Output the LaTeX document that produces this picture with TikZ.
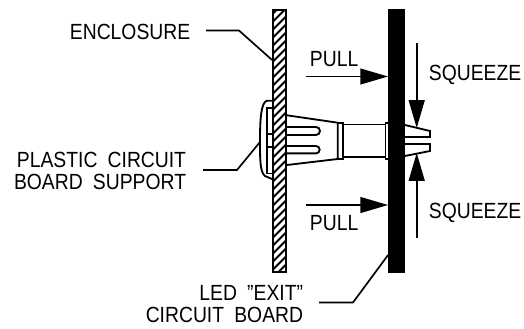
\documentclass[tikz,border=0pt]{standalone}
\usepackage{fontspec}
\setmainfont{Liberation Sans}[WordSpace=1.9, FakeStretch=0.88]
\usetikzlibrary{arrows.meta}
\begin{document}
\begin{tikzpicture}[
        x=0.02cm, y=-0.02cm,
        line width=1.05pt,
        every node/.style={inner sep=0pt, font=\fontsize{12.5}{13}\selectfont},
        textlabel/.style={align=right},
        leader/.style={line width=0.95pt},
        bigarrow/.style={line width=0.95pt, -{Triangle[length=15.8pt, width=9pt]}},
        wallbox/.style={draw, minimum width=0.26cm, minimum height=5.24cm, path picture={
            \foreach \y in {-140,-132,...,170} { \draw[line width=1.05pt] (-10,\y) -- (10,\y-20); }
        }},
        boardbox/.style={draw, fill=black, minimum width=0.30cm, minimum height=5.24cm}
    ]
        \useasboundingbox (0,0) rectangle (524,328);

        % Enclosure and board
        \node [wallbox] (wall) at (279.5,141) {};
        \node [boardbox] (board) at (396.5,141) {};

        % Labels
        \node [anchor=base west] (enclosure) at (69,39) {ENCLOSURE};
        \node [textlabel, anchor=east] (support) at (187,171) {PLASTIC CIRCUIT\\BOARD SUPPORT};
        \node [textlabel, anchor=east] (exit) at (304,304) {LED "EXIT"\\CIRCUIT BOARD};
        \node [anchor=base west] (pull1) at (309,66) {PULL};
        \node [anchor=base west] (pull2) at (309,230) {PULL};
        \node [anchor=base west] (squeeze1) at (428,80) {SQUEEZE};
        \node [anchor=base west] (squeeze2) at (428,218) {SQUEEZE};

        % Leaders
        \coordinate (enclosureStart) at (206,30.5);
        \coordinate (supportStart) at (203,170);
        \coordinate (exitStart) at (319,302.5);
        \draw[leader] (enclosureStart) -- (239,30.5) -- (wall.west |- 0,60);
        \draw[leader] (supportStart) -- (237,170) -- (260,142);
        \draw[leader] (exitStart) -- (353,302.5) -- (board.west |- 0,255);

        % Head of the support
        \draw (wall.west |- 0,100.7) -- (267,100.7) .. controls (261,102) and (260,120) .. (260,140)
            .. controls (260,160) and (260,172) .. (265,176) -- (wall.west |- 0,179);
        \draw (wall.west |- 0,108) -- (266.7,108) -- (266.7,173.5) -- (wall.west |- 0,173.5);
        \draw (266.7,134) -- (wall.west |- 0,134);
        \draw (266.7,147) -- (wall.west |- 0,147);

        % Cone with the two slots
        \draw (wall.east |- 0,115.3) -- (337.7,122.7) -- (337.7,159) -- (wall.east |- 0,165);
        \draw (wall.east |- 0,127) -- (316,127) arc (-90:90:4) -- (wall.east |- 0,135);
        \draw (wall.east |- 0,146) -- (316,146) arc (-90:90:3.7) -- (wall.east |- 0,153.4);

        % Barrel
        \draw (337.7,122.7) -- (342.7,122.7) -- (342.7,159) -- (337.7,159);
        \draw (342.7,124.5) -- (385.5,124.5);
        \draw (342.7,156.7) -- (385.5,156.7);
        \draw (board.west |- 0,122.7) -- (385.5,122.7) -- (385.5,159) -- (board.west |- 0,159);

        % Prongs through the board
        \draw (board.east |- 0,125) -- (430,131) -- (430,137) -- (board.east |- 0,137);
        \draw (board.east |- 0,144) -- (430,144) -- (430,151) -- (board.east |- 0,156);

        % Arrows
        \coordinate (pull1Start) at (306,76.5);
        \coordinate (pull2Start) at (306,205);
        \coordinate (squeeze1Start) at (416.7,43);
        \coordinate (squeeze2Start) at (416.7,238);
        \draw[bigarrow] (pull1Start) -- (pull1Start -| board.west);
        \draw[bigarrow] (pull2Start) -- (pull2Start -| board.west);
        \draw[bigarrow] (squeeze1Start) -- (416.7,128);
        \draw[bigarrow] (squeeze2Start) -- (416.7,153);
\end{tikzpicture}
\end{document}
